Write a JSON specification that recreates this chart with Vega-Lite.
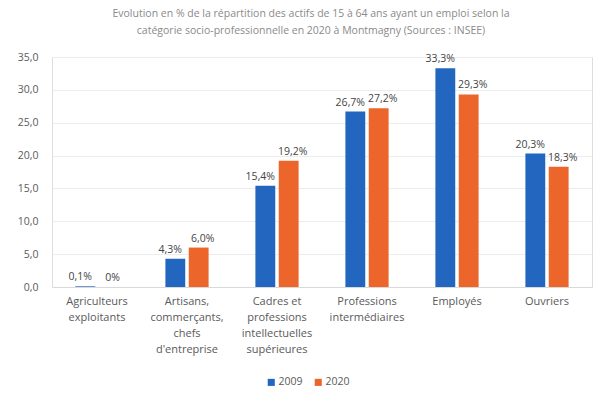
{
  "$schema": "https://vega.github.io/schema/vega-lite/v6.json",
  "width": 540,
  "height": 230,
  "autosize": "none",
  "padding": {"left": 52, "top": 57, "right": 2, "bottom": 107},
  "background": "white",
  "title": {
    "text": ["Evolution en % de la répartition des actifs de 15 à 64 ans ayant un emploi selon la", "catégorie socio-professionnelle en 2020 à Montmagny (Sources : INSEE)"],
    "anchor": "middle",
    "fontSize": 10.5,
    "fontWeight": "normal",
    "color": "#8a8a8a",
    "font": "Open Sans",
    "lineHeight": 17,
    "offset": 16,
    "dx": -11
  },
  "data": {
    "values": [
      {"cat": "Agriculteurs exploitants", "year": "2009", "v": 0.1},
      {"cat": "Agriculteurs exploitants", "year": "2020", "v": 0},
      {"cat": "Artisans, commerçants, chefs d'entreprise", "year": "2009", "v": 4.3},
      {"cat": "Artisans, commerçants, chefs d'entreprise", "year": "2020", "v": 6.0},
      {"cat": "Cadres et professions intellectuelles supérieures", "year": "2009", "v": 15.4},
      {"cat": "Cadres et professions intellectuelles supérieures", "year": "2020", "v": 19.2},
      {"cat": "Professions intermédiaires", "year": "2009", "v": 26.7},
      {"cat": "Professions intermédiaires", "year": "2020", "v": 27.2},
      {"cat": "Employés", "year": "2009", "v": 33.3},
      {"cat": "Employés", "year": "2020", "v": 29.3},
      {"cat": "Ouvriers", "year": "2009", "v": 20.3},
      {"cat": "Ouvriers", "year": "2020", "v": 18.3}
    ]
  },
  "transform": [
    {"calculate": "datum.v == 0 ? '0%' : replace(format(datum.v, '.1f'), '.', ',') + '%'", "as": "lbl"}
  ],
  "encoding": {
    "x": {
      "field": "cat",
      "type": "nominal",
      "sort": null,
      "title": null,
      "scale": {"paddingInner": 0.52, "paddingOuter": 0.26},
      "axis": {
        "labelAngle": 0,
        "labelFont": "Open Sans",
        "labelFontSize": 11,
        "labelColor": "#5a5a5a",
        "labelLineHeight": 16,
        "labelPadding": 8,
        "ticks": false,
        "domainColor": "#d9d9d9",
        "labelExpr": "indexof(datum.value,'Agriculteurs')==0 ? ['Agriculteurs','exploitants'] : indexof(datum.value,'Artisans')==0 ? ['Artisans,','commerçants,','chefs',\"d'entreprise\"] : indexof(datum.value,'Cadres')==0 ? ['Cadres et','professions','intellectuelles','supérieures'] : indexof(datum.value,'Professions')==0 ? ['Professions','intermédiaires'] : datum.value"
      }
    },
    "xOffset": {"field": "year", "type": "nominal", "scale": {"paddingInner": 0.15}},
    "y": {
      "field": "v",
      "type": "quantitative",
      "title": null,
      "scale": {"domain": [0, 35]},
      "axis": {
        "values": [0, 5, 10, 15, 20, 25, 30, 35],
        "labelExpr": "replace(format(datum.value, '.1f'), '.', ',')",
        "labelFont": "Open Sans",
        "labelFontSize": 10.5,
        "labelColor": "#5a5a5a",
        "labelPadding": 14,
        "domain": false,
        "ticks": false,
        "gridColor": "#ececec"
      }
    }
  },
  "layer": [
    {
      "mark": {"type": "bar"},
      "encoding": {
        "color": {
          "field": "year",
          "type": "nominal",
          "scale": {"domain": ["2009", "2020"], "range": ["#2366c0", "#ec662c"]},
          "legend": {
            "title": null,
            "orient": "none",
            "direction": "horizontal",
            "legendX": 214,
            "legendY": 320,
            "symbolType": "square",
            "symbolSize": 50,
            "symbolStrokeWidth": 0,
            "labelFont": "Open Sans",
            "labelFontSize": 10.5,
            "labelColor": "#5a5a5a",
            "columnPadding": 10,
            "labelOffset": 2
          }
        }
      }
    },
    {
      "transform": [{"filter": "datum.year == '2009'"}],
      "mark": {"type": "text", "baseline": "bottom", "dy": -4, "dx": -5, "font": "Open Sans", "fontSize": 10.5, "color": "#444444"},
      "encoding": {"text": {"field": "lbl"}}
    },
    {
      "transform": [{"filter": "datum.year == '2020'"}],
      "mark": {"type": "text", "baseline": "bottom", "dy": -4, "dx": 4, "font": "Open Sans", "fontSize": 10.5, "color": "#444444"},
      "encoding": {"text": {"field": "lbl"}}
    }
  ]
}
